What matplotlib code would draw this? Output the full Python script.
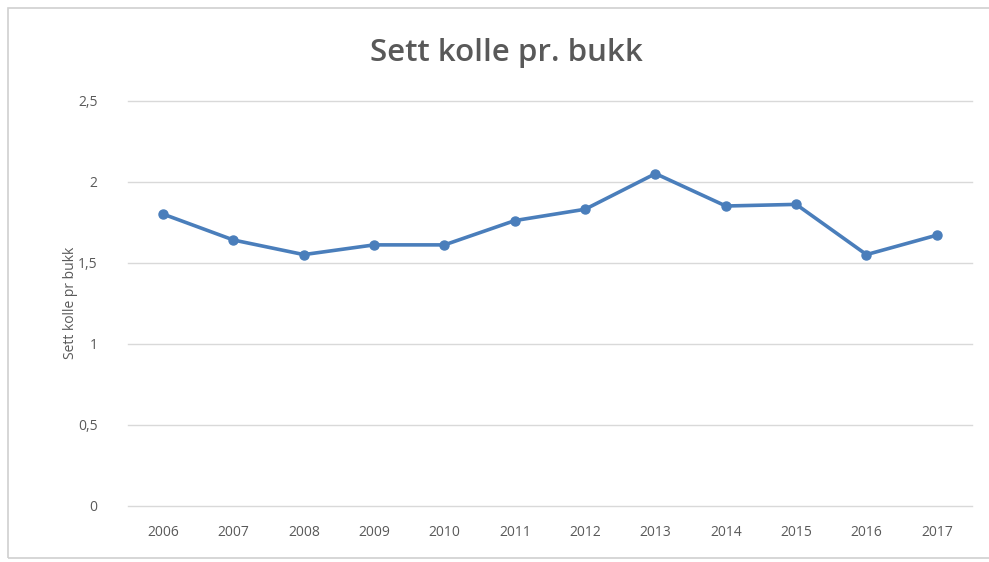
import matplotlib.pyplot as plt
from matplotlib.patches import Rectangle

years = ['2006', '2007', '2008', '2009', '2010', '2011',
         '2012', '2013', '2014', '2015', '2016', '2017']
sett_kolle = [1.80, 1.64, 1.55, 1.61, 1.61, 1.76,
              1.83, 2.05, 1.85, 1.86, 1.55, 1.67]
y_ticks = [0, 0.5, 1, 1.5, 2, 2.5]
y_labels = ['0', '0,5', '1', '1,5', '2', '2,5']

plt.rcParams['font.family'] = ['Open Sans', 'DejaVu Sans']
grey = '#595959'

fig = plt.figure(figsize=(9.89, 5.62), dpi=100)
fig.patches.append(Rectangle((8 / 989, 4 / 562), 1.0, 550 / 562,
                             transform=fig.transFigure, fill=False,
                             edgecolor='#d0d0d0', linewidth=1.2))
ax = fig.add_axes([0.1294, 0.1002, 0.8534, 0.7206])

x = range(len(years))
ax.plot(x, sett_kolle, color='#4a7ebb', linewidth=2.6,
        marker='o', markersize=6.5, zorder=3)

ax.set_xlim(-0.5, len(years) - 0.5)
ax.set_ylim(0, 2.5)
ax.set_xticks(list(x))
ax.set_xticklabels(years)
ax.set_yticks(y_ticks)
ax.set_yticklabels(y_labels)
for t in y_ticks:
    ax.axhline(t, color='#d9d9d9', linewidth=1, clip_on=False, zorder=1)
for s in ax.spines.values():
    s.set_visible(False)
ax.tick_params(length=0, colors=grey, labelsize=10)
ax.tick_params(axis='x', pad=14)
ax.tick_params(axis='y', pad=22)

ax.set_ylabel('Sett kolle pr bukk', color=grey, fontsize=10, labelpad=0)
fig.text(0.512, 0.905, 'Sett kolle pr. bukk', ha='center', va='center',
         fontsize=22.5, fontweight='semibold', color=grey)

fig.savefig('out.png')
